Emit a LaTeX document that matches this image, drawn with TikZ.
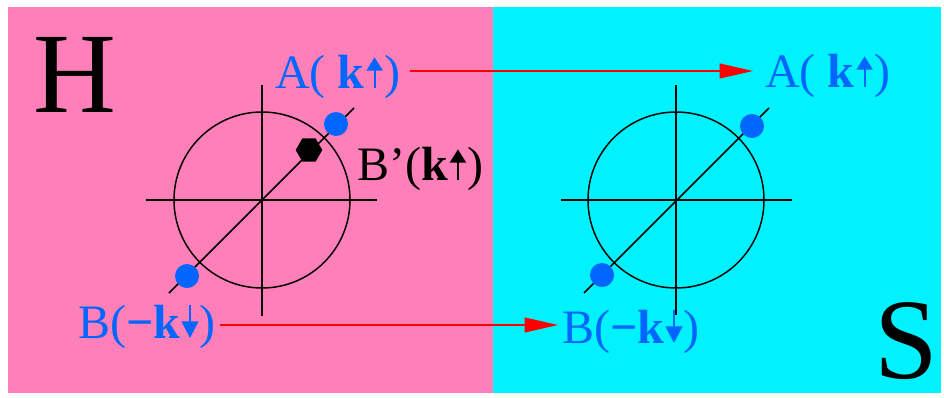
\documentclass[tikz,border=0pt]{standalone}
\usepackage{fontspec}
\setmainfont{Liberation Serif}
\definecolor{hpink}{RGB}{255, 128, 185}
\definecolor{scyan}{RGB}{0, 242, 255}
\definecolor{spinblue}{RGB}{0, 102, 255}
\usetikzlibrary{arrows.meta, positioning, shapes.geometric}
\newcommand{\kup}[1]{\hspace{1.5pt}\tikz[baseline=0pt]\draw[#1, line width=1.6pt, -{Triangle[length=10pt, width=12pt]}] (0,0) -- (0,23pt);\hspace{1.5pt}}
\newcommand{\kdown}[1]{\hspace{1pt}\tikz[baseline=0pt]\draw[#1, line width=1.6pt, -{Triangle[length=12.5pt, width=12.5pt]}] (0,25pt) -- (0,0);\hspace{1pt}}

\begin{document}
\begin{tikzpicture}[x=0.75pt, y=-0.75pt,
    lbl/.style={font=\fontsize{36}{40}\selectfont, text=spinblue, inner sep=0pt, anchor=base west},
    big/.style={font=\fontsize{86}{90}\selectfont, inner sep=0pt, anchor=base west},
    spin/.style={circle, fill=spinblue, inner sep=0pt, minimum size=18pt},
    axis/.style={line width=1.1pt},
    redarrow/.style={red, line width=1.5pt, -{Triangle[length=25pt, width=11pt]}}]
    \useasboundingbox (0,0) rectangle (944,397);
    % Panels
    \fill[white] (0,0) rectangle (944,397);
    \fill[hpink] (8,7) rectangle (493,393);
    \fill[scyan] (493,7) rectangle (941,393);
    \node[big] (H) at (33,112) {H};
    \node[big] (S) at (874,378) {S};

    % Left circle
    \coordinate (cl) at (262,200);
    \draw[axis] (cl) circle[radius=88];
    \draw[axis] (262,85) -- (262,316);
    \draw[axis] (146,200) -- (377,200);
    \coordinate (dl1) at (169,293);
    \coordinate (dl2) at (354,108);
    \draw[axis] (dl1) -- (dl2);
    \node[spin] (Aldot) at (336,124) {};
    \node[spin] (Bldot) at (187,276) {};
    \node[regular polygon, regular polygon sides=6, fill=black, inner sep=0pt, minimum size=20pt] (Bhex) at (309,150) {};

    % Right circle
    \coordinate (cr) at (676,200);
    \draw[axis] (cr) circle[radius=88];
    \draw[axis] (676,85) -- (676,315);
    \draw[axis] (561,200) -- (792,200);
    \coordinate (dr1) at (584,293);
    \coordinate (dr2) at (769,108);
    \draw[axis] (dr1) -- (dr2);
    \node[spin] (Ardot) at (752,126) {};
    \node[spin] (Brdot) at (602,275) {};

    % Labels
    \node[lbl] (Al) at (275,88) {A( \textbf{k}\kup{spinblue})};
    \node[lbl] (Ar) at (765,87) {A( \textbf{k}\kup{spinblue})};
    \node[lbl, text=black] (Bp) at (357,180) {B’(\textbf{k}\kup{black})};
    \node[lbl] (Bl) at (78,338) {B(\textbf{−k}\kdown{spinblue})};
    \node[lbl] (Br) at (562,343) {B(\textbf{−k}\kdown{spinblue})};

    % Transfer arrows
    \draw[redarrow] ([shift={(9,-17)}]Al.base east) -- ([shift={(-12,-16)}]Ar.base west);
    \draw[redarrow] ([shift={(4,-13)}]Bl.base east) -- ([shift={(-4,-18)}]Br.base west);
\end{tikzpicture}
\end{document}
